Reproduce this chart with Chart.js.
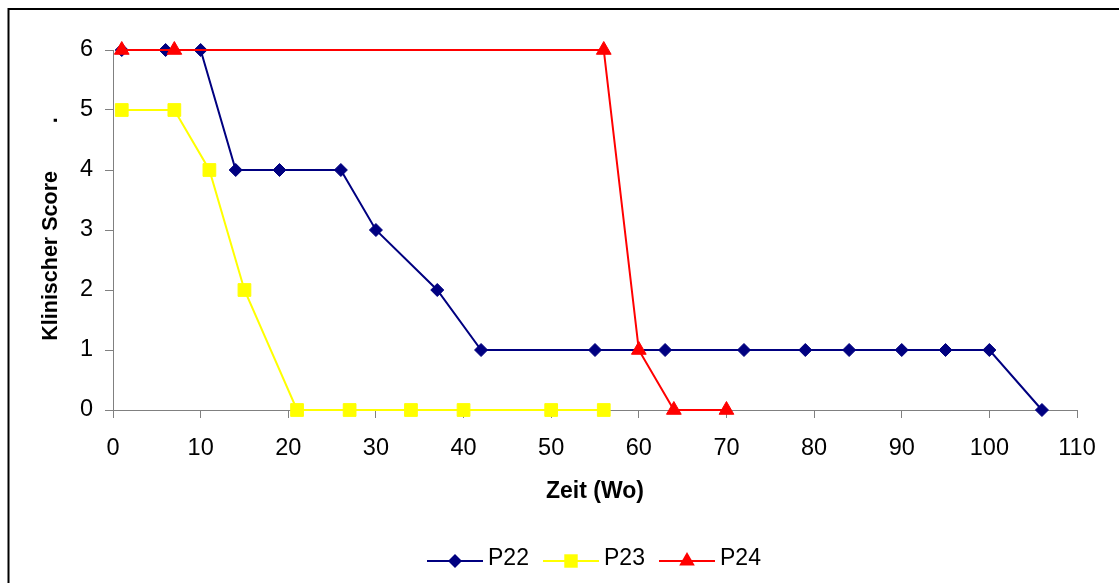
<!DOCTYPE html>
<html>
<head>
<meta charset="utf-8">
<script src="https://cdn.jsdelivr.net/npm/chart.js@4/dist/chart.umd.min.js"></script>
<style>
  html, body { margin: 0; padding: 0; background: #fff; }
  canvas { display: block; }
</style>
</head>
<body>
<canvas id="c" width="1119" height="583" style="width:1119px;height:583px"></canvas>
<script>
// Clinical score over time (weeks) per patient
const weeksP22 = [1, 6, 10, 14, 19, 26, 30, 37, 42, 55, 63, 72, 79, 84, 90, 95, 100, 106];
const scoreP22 = [6, 6, 6, 4, 4, 4, 3, 2, 1, 1, 1, 1, 1, 1, 1, 1, 1, 0];
const weeksP23 = [1, 7, 11, 15, 21, 27, 34, 40, 50, 56];
const scoreP23 = [5, 5, 4, 2, 0, 0, 0, 0, 0, 0];
const weeksP24 = [1, 7, 56, 60, 64, 70];
const scoreP24 = [6, 6, 6, 1, 0, 0];
const seriesNames = ['P22', 'P23', 'P24'];
const xTitle = 'Zeit (Wo)';
const yTitle = 'Klinischer Score        .';
const xMin = 0, xMax = 110, xStep = 10;
const yMin = 0, yMax = 6, yStep = 1;

const FONT = '"Liberation Sans", Arial, Helvetica, sans-serif';
const AXIS_GREY = '#808080';

const styles = [
  { color: '#000080', shape: 'rectRot', radius: 6.5 },
  { color: '#FFFF00', shape: 'rect', radius: 9 },
  { color: '#FF0000', shape: 'triangle', radius: 8.5 }
];

function toPoints(xs, ys) {
  return xs.map((x, i) => ({ x: x, y: ys[i] }));
}

const seriesData = [
  toPoints(weeksP22, scoreP22),
  toPoints(weeksP23, scoreP23),
  toPoints(weeksP24, scoreP24)
];

const datasets = seriesData.map((pts, i) => ({
  label: seriesNames[i],
  data: pts,
  borderColor: styles[i].color,
  backgroundColor: styles[i].color,
  borderWidth: 2,
  pointStyle: styles[i].shape,
  pointRadius: styles[i].radius,
  pointHoverRadius: styles[i].radius,
  pointBackgroundColor: styles[i].color,
  pointBorderColor: styles[i].color,
  pointBorderWidth: 1,
  tension: 0,
  clip: false,
  // later series sit on top
  order: seriesNames.length - 1 - i
}));

// marker shapes used in the legend
function drawMarker(ctx, shape, x, y, r, color) {
  ctx.save();
  ctx.fillStyle = color;
  ctx.beginPath();
  if (shape === 'rectRot') {
    ctx.moveTo(x, y - r); ctx.lineTo(x + r, y); ctx.lineTo(x, y + r); ctx.lineTo(x - r, y);
  } else if (shape === 'rect') {
    const s = r * Math.SQRT1_2;
    ctx.rect(x - s, y - s, 2 * s, 2 * s);
  } else {
    ctx.moveTo(x, y - r);
    ctx.lineTo(x + r * Math.sin(Math.PI / 3), y + r / 2);
    ctx.lineTo(x - r * Math.sin(Math.PI / 3), y + r / 2);
  }
  ctx.closePath();
  ctx.fill();
  ctx.restore();
}

const framePlugin = {
  id: 'frame',
  beforeDraw(chart) {
    const ctx = chart.ctx;
    ctx.save();
    ctx.fillStyle = '#fff';
    ctx.fillRect(0, 0, chart.width, chart.height);
    ctx.strokeStyle = '#000';
    ctx.lineWidth = 2;
    ctx.strokeRect(8.5, 9, chart.width + 20, chart.height + 20);
    ctx.restore();
  },
  afterDraw(chart) {
    const ctx = chart.ctx;
    const area = chart.chartArea;
    ctx.save();
    ctx.fillStyle = '#000';
    ctx.textAlign = 'center';
    ctx.textBaseline = 'middle';
    // x axis title
    ctx.font = 'bold 23px ' + FONT;
    ctx.fillText(xTitle, (area.left + area.right) / 2, 492);
    // y axis title
    ctx.font = 'bold 21.5px ' + FONT;
    ctx.save();
    ctx.translate(51, 229);
    ctx.rotate(-Math.PI / 2);
    ctx.fillText(yTitle, 0, 0);
    ctx.restore();

    // legend: line segment with marker, then label
    ctx.font = '23px ' + FONT;
    ctx.textAlign = 'left';
    const starts = [427, 543, 659];
    const lineY = 561;
    seriesNames.forEach((name, i) => {
      const x0 = starts[i];
      const x1 = x0 + 56;
      ctx.strokeStyle = styles[i].color;
      ctx.lineWidth = 2;
      ctx.beginPath();
      ctx.moveTo(x0, lineY);
      ctx.lineTo(x1, lineY);
      ctx.stroke();
      drawMarker(ctx, styles[i].shape, (x0 + x1) / 2, lineY, styles[i].radius + 0.5, styles[i].color);
      ctx.fillStyle = '#000';
      ctx.fillText(name, x1 + 5, 559);
    });
    ctx.restore();
  }
};

new Chart(document.getElementById('c'), {
  type: 'line',
  data: { datasets: datasets },
  options: {
    responsive: false,
    animation: false,
    events: [],
    layout: { padding: { left: 0, top: 50, right: 42, bottom: 0 } },
    plugins: {
      legend: { display: false },
      tooltip: { enabled: false },
      title: { display: false }
    },
    scales: {
      x: {
        type: 'linear',
        min: xMin,
        max: xMax,
        afterFit(scale) { scale.height = 173; },
        ticks: {
          stepSize: xStep,
          color: '#000',
          font: { family: FONT, size: 23.5 },
          padding: 16,
          maxRotation: 0,
          autoSkip: false
        },
        grid: { drawOnChartArea: false, drawTicks: true, tickLength: 8, color: AXIS_GREY, lineWidth: 1 },
        border: { display: true, color: AXIS_GREY, width: 1 }
      },
      y: {
        type: 'linear',
        min: yMin,
        max: yMax,
        afterFit(scale) { scale.width = 113; },
        ticks: {
          stepSize: yStep,
          color: '#000',
          font: { family: FONT, size: 23.5 },
          padding: 12
        },
        grid: { drawOnChartArea: false, drawTicks: true, tickLength: 8, color: AXIS_GREY, lineWidth: 1 },
        border: { display: true, color: AXIS_GREY, width: 1 }
      }
    }
  },
  plugins: [framePlugin]
});
</script>
</body>
</html>
